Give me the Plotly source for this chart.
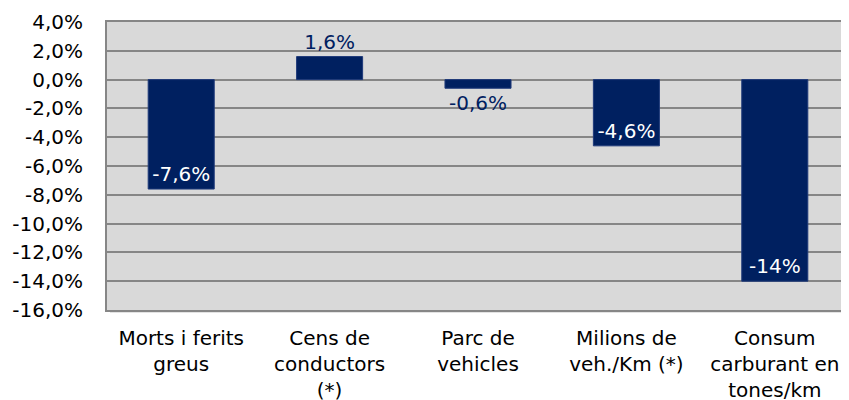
import plotly.graph_objects as go

categories = ["Morts i ferits<br>greus", "Cens de<br>conductors<br>(*)", "Parc de<br>vehicles",
              "Milions de<br>veh./Km (*)", "Consum<br>carburant en<br>tones/km"]
values = [-7.6, 1.6, -0.6, -4.6, -14.0]
labels = ["-7,6%", "1,6%", "-0,6%", "-4,6%", "-14%"]
label_pos = ["inside", "outside", "outside", "inside", "inside"]
label_col = ["white", "#002060", "#002060", "white", "white"]
tick_vals = [4, 2, 0, -2, -4, -6, -8, -10, -12, -14, -16]
tick_text = ["4,0%", "2,0%", "0,0%", "-2,0%", "-4,0%", "-6,0%", "-8,0%", "-10,0%", "-12,0%", "-14,0%", "-16,0%"]

FONT = "DejaVu Sans"
FS = 20
OFF = 8  # page body margin
W, H = 849 - OFF, 400 - OFF
ML, MR, MT, MB = 107 - OFF, 0, 22 - OFF, 400 - 310
ph = H - MT - MB
pw = W - ML - MR

fig = go.Figure(go.Bar(
    x=categories, y=values, text=labels, textposition=label_pos,
    insidetextanchor="end", constraintext="none", cliponaxis=False,
    textfont=dict(family=FONT, size=FS, color=label_col),
    marker=dict(color="#002060", line=dict(color="#1f3a7a", width=1)),
    width=0.445,
))

def py(p):  # page pixel y -> paper
    return 1 - (p - OFF - MT) / ph

def px(p):
    return (p - OFF - ML) / pw

shapes = [
    # plot shadow
    dict(type="rect", xref="paper", yref="paper", x0=px(110), x1=1, y0=py(313), y1=py(310),
         fillcolor="#e3e3e3", line=dict(width=0), layer="below"),
    # title box shadow
    dict(type="rect", xref="paper", yref="paper", x0=px(110), x1=px(800), y0=py(6), y1=py(0),
         fillcolor="#d0d0d0", line=dict(width=0), layer="below"),
    dict(type="rect", xref="paper", yref="paper", x0=px(109), x1=px(798), y0=py(4.5), y1=py(0),
         fillcolor="#a0a0a0", line=dict(width=0), layer="below"),
    dict(type="rect", xref="paper", yref="paper", x0=px(107), x1=px(797), y0=py(3), y1=py(0),
         fillcolor="#7a7a7a", line=dict(width=0), layer="below"),
    dict(type="rect", xref="paper", yref="paper", x0=px(106), x1=px(795), y0=py(1.5), y1=py(0),
         fillcolor="white", line=dict(width=0), layer="below"),
]

fig.update_layout(
    width=W, height=H, margin=dict(l=ML, r=MR, t=MT, b=MB, autoexpand=False),
    paper_bgcolor="white", plot_bgcolor="#d9d9d9",
    font=dict(family=FONT, size=FS, color="black"),
    showlegend=False, bargap=0.555, shapes=shapes,
    xaxis=dict(showgrid=False, showline=True, linecolor="#868686", linewidth=2, mirror=True,
               automargin=False,
               tickfont=dict(family=FONT, size=FS, color="black"), ticks="outside",
               ticklen=9, tickcolor="rgba(0,0,0,0)"),
    yaxis=dict(range=[-16, 4], tickvals=tick_vals, ticktext=tick_text, automargin=False,
               showgrid=True, gridcolor="#868686", gridwidth=2,
               zeroline=True, zerolinecolor="#868686", zerolinewidth=2,
               showline=True, linecolor="#868686", linewidth=2, mirror=True,
               ticks="outside", ticklen=18, tickcolor="rgba(0,0,0,0)",
               tickfont=dict(family=FONT, size=FS, color="black")),
)

fig.write_html("out.html")
